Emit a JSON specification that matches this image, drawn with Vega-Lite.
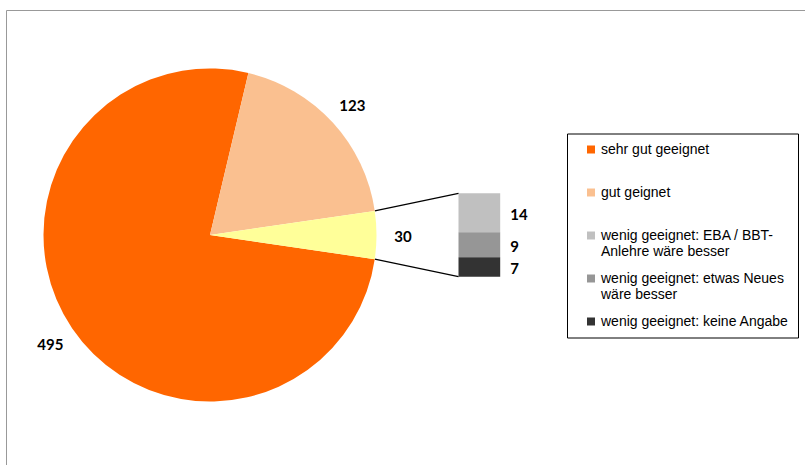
{
  "$schema": "https://vega.github.io/schema/vega-lite/v6.json",
  "width": 801,
  "height": 457,
  "autosize": {"type": "none"},
  "padding": {"left": 6, "top": 10, "right": -2, "bottom": -2},
  "background": "white",
  "config": {
    "view": {"stroke": "#999999", "strokeWidth": 1},
    "legend": {
      "orient": "none", "legendX": 561, "legendY": 123.5,
      "symbolType": "square", "symbolSize": 64, "symbolStrokeWidth": 0,
      "labelFont": "Liberation Sans", "labelFontSize": 14, "labelColor": "#000000", "labelLimit": 400,
      "strokeColor": "#000000", "fillColor": "#FFFFFF", "padding": 9, "rowPadding": 13, "gridAlign": "all",
      "symbolOffset": 8, "labelOffset": 3
    }
  },
  "data": {"values": [
    {"gruppe": "sehr gut geeignet", "kategorie": "sehr gut geeignet", "anzahl": 495},
    {"gruppe": "gut geignet", "kategorie": "gut geignet", "anzahl": 123},
    {"gruppe": "wenig geeignet", "kategorie": "wenig geeignet: EBA / BBT-Anlehre wäre besser", "anzahl": 14},
    {"gruppe": "wenig geeignet", "kategorie": "wenig geeignet: etwas Neues wäre besser", "anzahl": 9},
    {"gruppe": "wenig geeignet", "kategorie": "wenig geeignet: keine Angabe", "anzahl": 7}
  ]},
  "layer": [
    {
      "transform": [{"filter": "datum.gruppe == 'wenig geeignet'"}],
      "encoding": {
        "x": {"field": "gruppe", "type": "nominal", "scale": {"range": [452.5, 494.2], "paddingInner": 0, "paddingOuter": 0}, "axis": null},
        "y": {"field": "anzahl", "type": "quantitative", "stack": "zero", "scale": {"domain": [-68.45, 95.94], "nice": false, "zero": false}, "axis": null},
        "order": {"field": "anzahl", "type": "quantitative", "sort": "ascending"}
      },
      "layer": [
        {
          "mark": {"type": "bar"},
          "encoding": {
            "color": {
              "field": "kategorie", "type": "nominal",
              "scale": {
                "domain": ["sehr gut geeignet", "gut geignet", "wenig geeignet: EBA / BBT-Anlehre wäre besser", "wenig geeignet: etwas Neues wäre besser", "wenig geeignet: keine Angabe", "wenig geeignet"],
                "range": ["#FF6600", "#FAC090", "#C0C0C0", "#969696", "#333333", "#FFFF99"]
              },
              "legend": {
                "title": null,
                "values": ["sehr gut geeignet", "gut geignet", "wenig geeignet: EBA / BBT-Anlehre wäre besser", "wenig geeignet: etwas Neues wäre besser", "wenig geeignet: keine Angabe"],
                "labelExpr": "datum.label == 'wenig geeignet: EBA / BBT-Anlehre wäre besser' ? ['wenig geeignet: EBA / BBT-', 'Anlehre wäre besser'] : datum.label == 'wenig geeignet: etwas Neues wäre besser' ? ['wenig geeignet: etwas Neues', 'wäre besser'] : datum.label"
              }
            }
          }
        },
        {
          "mark": {"type": "text", "align": "left", "baseline": "middle", "dx": 10, "dy": 2, "font": "Lato", "fontWeight": "bold", "fontSize": 15, "color": "#000000"},
          "encoding": {
            "x": {"field": "gruppe", "type": "nominal", "bandPosition": 1},
            "y": {"field": "anzahl", "type": "quantitative", "stack": "zero", "bandPosition": 0.5},
            "detail": {"field": "kategorie", "type": "nominal"},
            "text": {"field": "anzahl", "type": "quantitative"}
          }
        }
      ]
    },
    {
      "transform": [
        {"filter": "datum.gruppe == 'wenig geeignet'"},
        {"stack": "anzahl", "groupby": ["gruppe"], "sort": [{"field": "anzahl", "order": "ascending"}], "as": ["unten", "oben"]}
      ],
      "layer": [
        {
          "transform": [{"filter": "datum.kategorie == 'wenig geeignet: EBA / BBT-Anlehre wäre besser'"}],
          "mark": {"type": "rule", "color": "#000000", "strokeWidth": 1.2},
          "encoding": {
            "x": {"field": "gruppe", "type": "nominal", "bandPosition": 0},
            "y": {"field": "oben", "type": "quantitative"},
            "x2": {"value": 368.8},
            "y2": {"value": {"expr": "scale('y', 15) - 24.1"}}
          }
        },
        {
          "transform": [{"filter": "datum.kategorie == 'wenig geeignet: keine Angabe'"}],
          "mark": {"type": "rule", "color": "#000000", "strokeWidth": 1.2},
          "encoding": {
            "x": {"field": "gruppe", "type": "nominal", "bandPosition": 0},
            "y": {"field": "unten", "type": "quantitative"},
            "x2": {"value": 368.8},
            "y2": {"value": {"expr": "scale('y', 15) + 24.1"}}
          }
        }
      ]
    },
    {
      "transform": [{"aggregate": [{"op": "sum", "field": "anzahl", "as": "summe"}], "groupby": ["gruppe"]}],
      "encoding": {
        "theta": {"field": "summe", "type": "quantitative", "stack": true, "scale": {"range": [1.4254, 7.7086]}},
        "order": {"field": "gruppe", "type": "nominal", "sort": "descending"},
        "x": {"value": 204},
        "y": {"value": {"expr": "scale('y', 15)"}}
      },
      "layer": [
        {
          "mark": {"type": "arc", "outerRadius": 166.5},
          "encoding": {
            "color": {"field": "gruppe", "type": "nominal"}
          }
        },
        {
          "mark": {"type": "text", "radius": 193, "dy": 1.5, "font": "Lato", "fontWeight": "bold", "fontSize": 15, "color": "#000000"},
          "encoding": {
            "detail": {"field": "gruppe", "type": "nominal"},
            "text": {"field": "summe", "type": "quantitative"}
          }
        }
      ]
    }
  ]
}
